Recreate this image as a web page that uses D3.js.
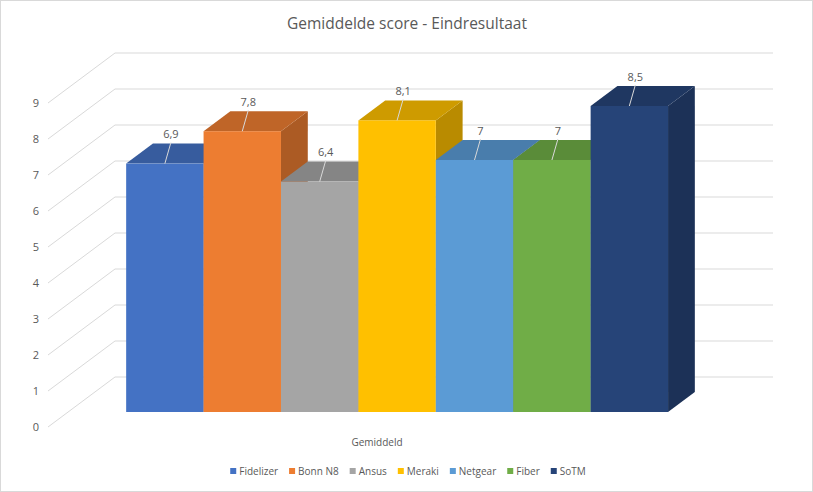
<!DOCTYPE html>
<html lang="nl">
<head>
<meta charset="utf-8">
<title>Gemiddelde score - Eindresultaat</title>
<script src="https://d3js.org/d3.v7.min.js"></script>
<style>
  body { margin: 0; background: #fff; }
  svg text { font-family: "Open Sans", "DejaVu Sans", sans-serif; fill: #595959; }
</style>
</head>
<body>
<svg width="813" height="492"></svg>
<script>
// gegevens
var categorie = "Gemiddeld";
var merken = ["Fidelizer", "Bonn N8", "Ansus", "Meraki", "Netgear", "Fiber", "SoTM"];
var scores = [6.9, 7.8, 6.4, 8.1, 7, 7, 8.5];
var kleuren = ["#4472C4", "#ED7D31", "#A5A5A5", "#FFC000", "#5B9BD5", "#70AD47", "#264478"];
var yTicks = [0, 1, 2, 3, 4, 5, 6, 7, 8, 9];

var svg = d3.select("svg"),
    W = +svg.attr("width"), H = +svg.attr("height");

// rand om de grafiek
svg.append("rect")
    .attr("x", 0.5).attr("y", 0.5)
    .attr("width", W - 1).attr("height", H - 1)
    .attr("fill", "#fff").attr("stroke", "#d9d9d9");

// 3D: voorvlak + diepte (schuine projectie)
var diepte = {dx: 67, dy: -50};
var x = d3.scaleBand().domain(merken).range([48, 706]).paddingInner(0).paddingOuter(0.75);
var y = d3.scaleLinear().domain([0, 9]).range([427, 103]);

function p(px, v, t) {
  return [px + diepte.dx * t, y(v) + diepte.dy * t];
}
function poly(pts) { return "M" + pts.map(function(d) { return d.join(","); }).join("L") + "Z"; }

// rasterlijnen
var grid = svg.append("g");
yTicks.forEach(function(v) {
  var a = p(48, v, 0), b = p(48, v, 1), c = p(706, v, 1);
  grid.append("path")
      .attr("d", "M" + a + "L" + b + "L" + c)
      .attr("fill", "none")
      .attr("stroke", "#d9d9d9")
      .attr("stroke-width", 1);
});

// y-as labels
svg.append("g").selectAll("text")
  .data(yTicks)
  .enter().append("text")
    .attr("x", 39)
    .attr("y", function(d) { return y(d); })
    .attr("dy", "0.35em")
    .attr("text-anchor", "end")
    .style("font-size", "11px")
    .text(function(d) { return d; });

// balken
var t0 = 0.3, t1 = 0.7;
var balken = svg.append("g");
merken.forEach(function(m, i) {
  var v = scores[i], x0 = x(m), x1 = x(m) + x.bandwidth();
  var c = d3.color(kleuren[i]);
  // zijvlak
  balken.append("path")
      .attr("d", poly([p(x1, 0, t0), p(x1, 0, t1), p(x1, v, t1), p(x1, v, t0)]))
      .attr("fill", c.darker(0.9));
  // bovenvlak
  balken.append("path")
      .attr("d", poly([p(x0, v, t0), p(x1, v, t0), p(x1, v, t1), p(x0, v, t1)]))
      .attr("fill", c.darker(0.6));
  // voorvlak
  var a = p(x0, v, t0), b = p(x1, 0, t0);
  balken.append("rect")
      .attr("x", a[0]).attr("y", a[1])
      .attr("width", b[0] - a[0]).attr("height", b[1] - a[1])
      .attr("fill", c);
});

// gegevenslabels met verbindingslijn
var labels = svg.append("g");
merken.forEach(function(m, i) {
  var v = scores[i];
  var f = p(x(m) + x.bandwidth() / 2, v, t0);
  var lx = f[0] + 6, ly = f[1] - 29;
  labels.append("line")
      .attr("x1", lx).attr("y1", ly + 8)
      .attr("x2", f[0]).attr("y2", f[1])
      .attr("stroke", "#d9d9d9").attr("stroke-width", 1);
  labels.append("text")
      .attr("x", lx).attr("y", ly)
      .attr("dy", "0.35em")
      .attr("text-anchor", "middle")
      .style("font-size", "11px")
      .text(String(v).replace(".", ","));
});

// categorie-label
svg.append("text")
    .attr("x", (48 + 706) / 2)
    .attr("y", 442)
    .attr("dy", "0.35em")
    .attr("text-anchor", "middle")
    .style("font-size", "10px")
    .text(categorie);

// titel
svg.append("text")
    .attr("x", 407)
    .attr("y", 24)
    .attr("dy", "0.35em")
    .attr("text-anchor", "middle")
    .style("font-size", "15.5px")
    .text("Gemiddelde score - Eindresultaat");

// legenda
var legend = svg.append("g");
var xpos = 0;
merken.forEach(function(m, i) {
  var item = legend.append("g").attr("transform", "translate(" + xpos + ",0)");
  item.append("rect")
      .attr("x", 0).attr("y", -3)
      .attr("width", 6).attr("height", 6)
      .attr("fill", kleuren[i]);
  var tx = item.append("text")
      .attr("x", 9).attr("y", 0)
      .attr("dy", "0.35em")
      .style("font-size", "10px")
      .text(m);
  xpos += 9 + tx.node().getComputedTextLength() + 11;
});
var lw = xpos - 11;
legend.attr("transform", "translate(" + (408 - lw / 2) + ",471)");
</script>
</body>
</html>
